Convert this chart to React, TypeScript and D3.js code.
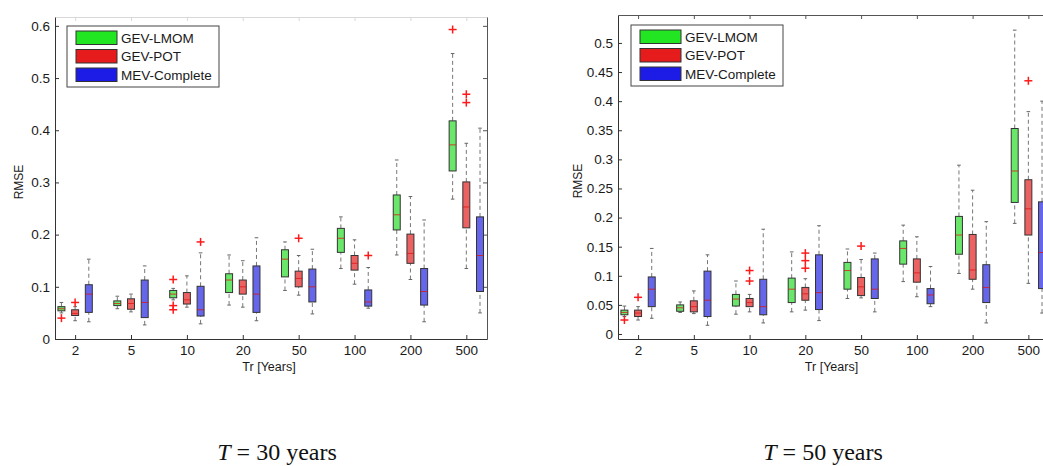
import React, { useEffect, useRef } from "react";
import * as d3 from "d3";

const periods = ["2", "5", "10", "20", "50", "100", "200", "500"];
const methods = ["GEV-LMOM", "GEV-POT", "MEV-Complete"];
const legendColors = ["#22e622", "#e61c1c", "#1c1ce6"];
const boxColors = ["#6ae66a", "#ec6262", "#6666ea"];

const ticks30 = [0, 0.1, 0.2, 0.3, 0.4, 0.5, 0.6];
const ticks50 = [0, 0.05, 0.1, 0.15, 0.2, 0.25, 0.3, 0.35, 0.4, 0.45, 0.5];

// each box: [lower whisker, q1, median, q3, upper whisker]
const t30Lmom = [
  [0.05, 0.054, 0.058, 0.062, 0.07],
  [0.058, 0.064, 0.068, 0.073, 0.082],
  [0.075, 0.079, 0.086, 0.093, 0.097],
  [0.065, 0.089, 0.113, 0.125, 0.161],
  [0.093, 0.119, 0.153, 0.171, 0.186],
  [0.135, 0.166, 0.193, 0.212, 0.234],
  [0.161, 0.209, 0.238, 0.276, 0.343],
  [0.268, 0.322, 0.372, 0.418, 0.547],
];
const t30Pot = [
  [0.035, 0.045, 0.049, 0.056, 0.062],
  [0.052, 0.057, 0.068, 0.077, 0.086],
  [0.061, 0.067, 0.075, 0.089, 0.121],
  [0.061, 0.086, 0.1, 0.113, 0.15],
  [0.084, 0.1, 0.116, 0.13, 0.16],
  [0.105, 0.132, 0.145, 0.16, 0.19],
  [0.114, 0.145, 0.164, 0.201, 0.273],
  [0.135, 0.213, 0.253, 0.301, 0.375],
];
const t30Mev = [
  [0.033, 0.051, 0.086, 0.104, 0.153],
  [0.027, 0.041, 0.07, 0.113, 0.14],
  [0.029, 0.044, 0.056, 0.101, 0.165],
  [0.035, 0.051, 0.086, 0.14, 0.194],
  [0.048, 0.071, 0.1, 0.134, 0.172],
  [0.059, 0.063, 0.071, 0.094, 0.137],
  [0.033, 0.065, 0.091, 0.135, 0.228],
  [0.05, 0.091, 0.16, 0.234, 0.404],
];
const t30LmomOut = [[0.04], [], [0.114, 0.064, 0.056], [], [], [], [], [0.593]];
const t30PotOut = [[0.07], [], [], [], [0.193], [], [], [0.469, 0.453]];
const t30MevOut = [[], [], [0.186], [], [], [0.16], [], []];

const t50Lmom = [
  [0.03, 0.033, 0.037, 0.041, 0.048],
  [0.037, 0.039, 0.045, 0.05, 0.055],
  [0.034, 0.048, 0.06, 0.068, 0.091],
  [0.038, 0.054, 0.077, 0.096, 0.141],
  [0.061, 0.077, 0.109, 0.123, 0.146],
  [0.09, 0.12, 0.147, 0.16, 0.187],
  [0.104, 0.137, 0.17, 0.202, 0.29],
  [0.19, 0.226, 0.28, 0.353, 0.522],
];
const t50Pot = [
  [0.024, 0.03, 0.036, 0.041, 0.047],
  [0.035, 0.038, 0.047, 0.057, 0.074],
  [0.038, 0.047, 0.054, 0.061, 0.068],
  [0.041, 0.058, 0.069, 0.08, 0.095],
  [0.062, 0.066, 0.081, 0.097, 0.128],
  [0.064, 0.089, 0.105, 0.129, 0.167],
  [0.077, 0.094, 0.11, 0.171, 0.247],
  [0.087, 0.17, 0.215, 0.265, 0.382],
];
const t50Mev = [
  [0.027, 0.047, 0.077, 0.098, 0.147],
  [0.015, 0.03, 0.058, 0.108, 0.136],
  [0.019, 0.033, 0.047, 0.094, 0.18],
  [0.023, 0.042, 0.071, 0.136, 0.186],
  [0.038, 0.061, 0.077, 0.129, 0.139],
  [0.047, 0.052, 0.067, 0.078, 0.116],
  [0.019, 0.054, 0.08, 0.119, 0.193],
  [0.036, 0.078, 0.14, 0.227, 0.4],
];
const t50LmomOut = [[0.024], [], [], [], [], [], [], []];
const t50PotOut = [[0.063], [], [0.109, 0.091], [0.139, 0.126, 0.113], [0.151], [], [], [0.435]];
const t50MevOut = [[], [], [], [], [], [], [], []];

const panels = [
  {
    left: 55, right: 487, top: 17, bottom: 339,
    yDomain: [0, 0.617], yTicks: ticks30, topStroke: "#d8d8d8",
    boxes: [t30Lmom, t30Pot, t30Mev], outs: [t30LmomOut, t30PotOut, t30MevOut],
    legend: { x: 67, y: 26 }, ylabX: 23, caption: "30", captionX: 277,
  },
  {
    left: 618, right: 1049, top: 15, bottom: 339,
    yDomain: [-0.0086, 0.548], yTicks: ticks50, topStroke: "#555",
    boxes: [t50Lmom, t50Pot, t50Mev], outs: [t50LmomOut, t50PotOut, t50MevOut],
    legend: { x: 631, y: 25 }, ylabX: 582, caption: "50", captionX: 823,
  },
];

const sans = "'Liberation Sans', Arial, Helvetica, sans-serif";
const offsets = [-0.245, 0, 0.245];
const boxW = 0.125;

function drawPanel(svg, p) {
  const x = d3.scaleLinear().domain([-0.36, 7.37]).range([p.left, p.right]);
  const y = d3.scaleLinear().domain(p.yDomain).range([p.bottom, p.top]);
  const g = svg.append("g");
  const fmt = d => String(+(+d).toFixed(2));
  const idx = d3.range(periods.length);

  // frame: top + right with mirrored ticks
  g.append("g")
    .attr("transform", `translate(0,${p.top})`)
    .attr("color", p.topStroke)
    .call(d3.axisTop(x).tickValues(idx).tickFormat(() => "").tickSizeInner(-4).tickSizeOuter(0));
  g.append("g")
    .attr("transform", `translate(${p.right},0)`)
    .attr("color", "#555")
    .call(d3.axisRight(y).tickValues(p.yTicks).tickFormat(() => "").tickSizeInner(-4).tickSizeOuter(0));

  const ya = g.append("g")
    .attr("transform", `translate(${p.left},0)`)
    .attr("color", "#333")
    .call(d3.axisLeft(y).tickValues(p.yTicks).tickFormat(fmt).tickSizeInner(-4).tickSizeOuter(0).tickPadding(5));
  ya.attr("font-size", 13.5).attr("font-family", sans);
  ya.selectAll("text").attr("fill", "#1a1a1a");

  const xa = g.append("g")
    .attr("transform", `translate(0,${p.bottom})`)
    .attr("color", "#333")
    .call(d3.axisBottom(x).tickValues(idx).tickFormat(i => periods[i]).tickSizeInner(-4).tickSizeOuter(0).tickPadding(6));
  xa.attr("font-size", 13.5).attr("font-family", sans);
  xa.selectAll("text").attr("fill", "#1a1a1a");

  const half = (x(boxW) - x(0)) / 2;
  const cap = 1.8;

  p.boxes.forEach((series, k) => {
    const sg = g.append("g");
    const cx = i => x(i + offsets[k]);

    sg.selectAll(".whi").data(series).join("line")
      .attr("x1", (d, i) => cx(i)).attr("x2", (d, i) => cx(i))
      .attr("y1", d => y(d[3])).attr("y2", d => y(d[4]))
      .attr("stroke", "#777").attr("stroke-dasharray", "4,3");
    sg.selectAll(".wlo").data(series).join("line")
      .attr("x1", (d, i) => cx(i)).attr("x2", (d, i) => cx(i))
      .attr("y1", d => y(d[0])).attr("y2", d => y(d[1]))
      .attr("stroke", "#777").attr("stroke-dasharray", "4,3");
    [0, 4].forEach(j => {
      sg.selectAll(".cap" + j).data(series).join("line")
        .attr("x1", (d, i) => cx(i) - cap).attr("x2", (d, i) => cx(i) + cap)
        .attr("y1", d => y(d[j])).attr("y2", d => y(d[j]))
        .attr("stroke", "#666");
    });
    sg.selectAll("rect").data(series).join("rect")
      .attr("x", (d, i) => cx(i) - half)
      .attr("width", half * 2)
      .attr("y", d => y(d[3]))
      .attr("height", d => y(d[1]) - y(d[3]))
      .attr("fill", boxColors[k])
      .attr("stroke", "#333");
    sg.selectAll(".med").data(series).join("line")
      .attr("x1", (d, i) => cx(i) - half).attr("x2", (d, i) => cx(i) + half)
      .attr("y1", d => y(d[2])).attr("y2", d => y(d[2]))
      .attr("stroke", "#dd1111").attr("stroke-opacity", 0.75);

    const pts = p.outs[k].flatMap((vals, i) => vals.map(v => ({ i, v })));
    const pg = sg.selectAll(".out").data(pts).join("g")
      .attr("transform", d => `translate(${cx(d.i)},${y(d.v)})`)
      .attr("stroke", "#ff1a1a").attr("stroke-width", 1.5);
    pg.append("line").attr("x1", -4).attr("x2", 4);
    pg.append("line").attr("y1", -4).attr("y2", 4);
  });

  // legend
  const lg = g.append("g").attr("transform", `translate(${p.legend.x},${p.legend.y})`);
  lg.append("rect").attr("width", 152).attr("height", 61)
    .attr("fill", "#fff").attr("stroke", "#444");
  methods.forEach((m, k) => {
    lg.append("rect")
      .attr("x", 9).attr("y", 5 + k * 18.5)
      .attr("width", 41).attr("height", 13.5)
      .attr("fill", legendColors[k]).attr("stroke", "#333");
    lg.append("text")
      .attr("x", 54).attr("y", 12 + k * 18.5)
      .attr("dy", "0.36em")
      .attr("font-size", 13.5).attr("font-family", sans).attr("fill", "#1a1a1a")
      .text(m);
  });

  g.append("text")
    .attr("x", (p.left + p.right) / 2 - 2).attr("y", 371)
    .attr("text-anchor", "middle")
    .attr("font-size", 12.5).attr("font-family", sans).attr("fill", "#1a1a1a")
    .text("Tr [Years]");
  g.append("text")
    .attr("transform", `translate(${p.ylabX},${(p.top + p.bottom) / 2 + 4}) rotate(-90)`)
    .attr("text-anchor", "middle")
    .attr("font-size", 12).attr("font-family", sans).attr("fill", "#1a1a1a")
    .text("RMSE");

  const cap2 = g.append("text")
    .attr("x", p.captionX).attr("y", 460)
    .attr("text-anchor", "middle")
    .attr("font-size", 24).attr("font-family", "'Liberation Serif', 'Times New Roman', serif")
    .attr("fill", "#111");
  cap2.append("tspan").attr("font-style", "italic").text("T");
  cap2.append("tspan").text(` = ${p.caption} years`);
}

export default function App() {
  const ref = useRef(null);

  useEffect(() => {
    const svg = d3.select(ref.current);
    svg.selectAll("*").remove();
    panels.forEach(p => drawPanel(svg, p));
  }, []);

  return (
    <svg
      ref={ref}
      width={1043}
      height={466}
      style={{ position: "absolute", left: 0, top: 0, background: "#fff" }}
    />
  );
}
